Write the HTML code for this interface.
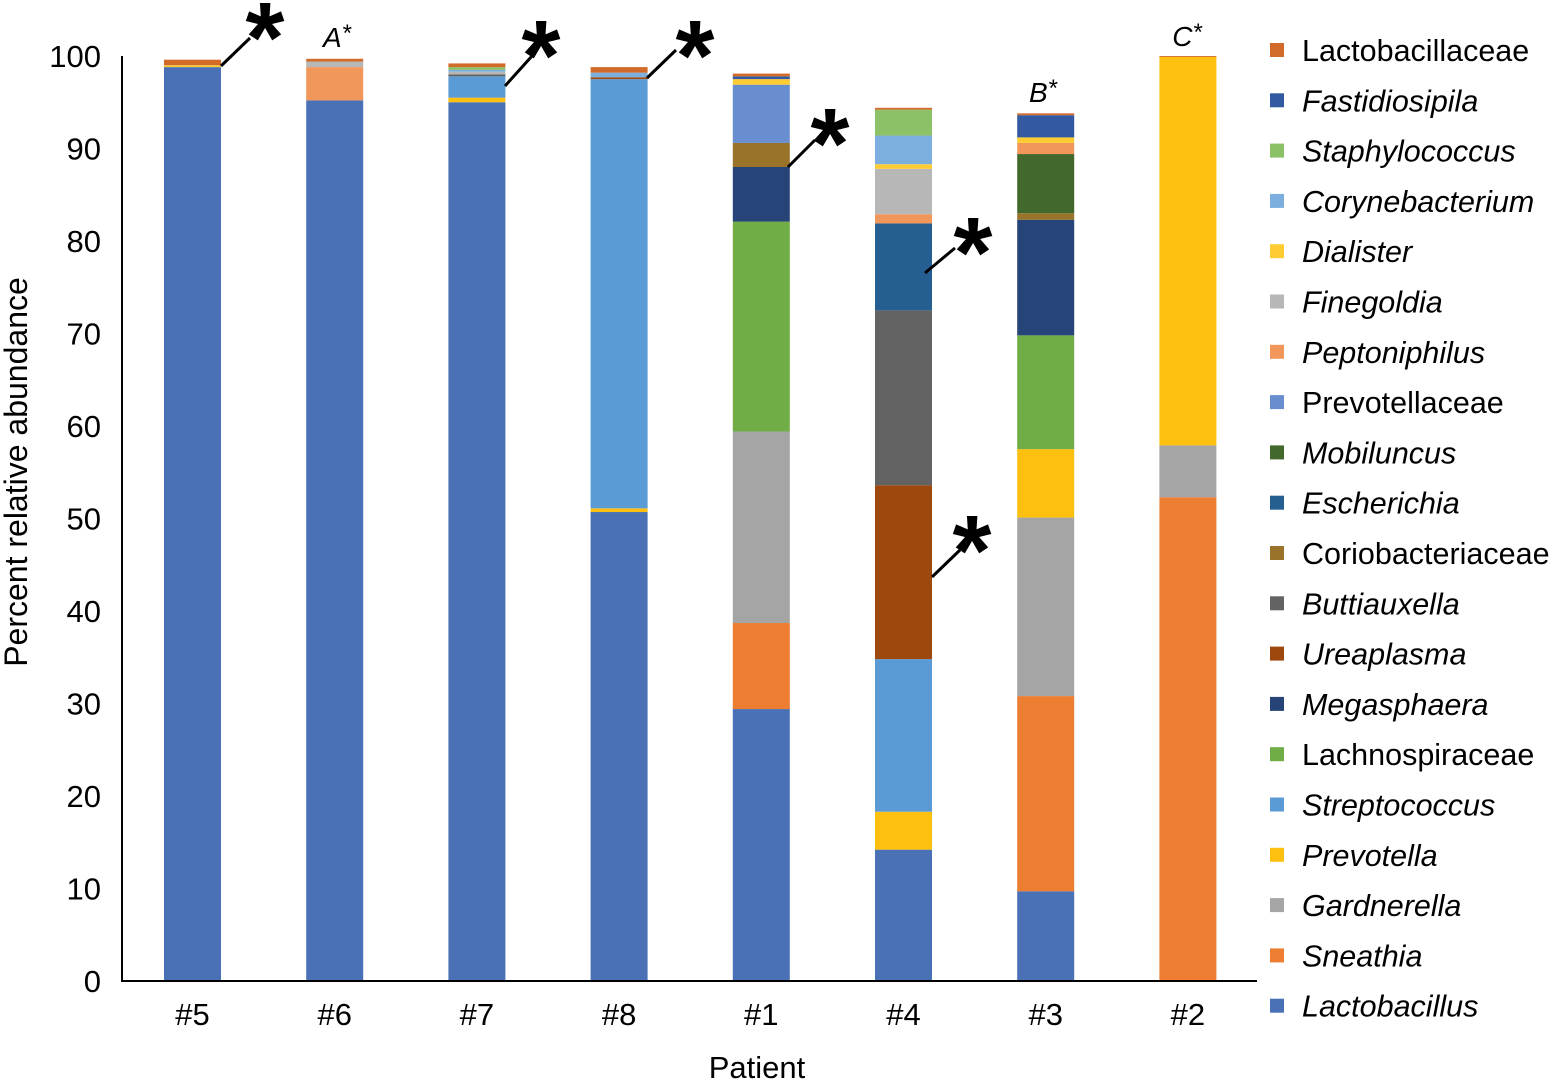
<!DOCTYPE html>
<html><head><meta charset="utf-8"><style>
html,body{margin:0;padding:0;background:#fff;}
svg{display:block;font-family:"Liberation Sans",Arial,sans-serif;}
</style></head><body>
<svg id="chart" width="1558" height="1081" viewBox="0 0 1558 1081"></svg>
<script>
const patients = ["#5","#6","#7","#8","#1","#4","#3","#2"];
const taxa = ["Lactobacillus","Sneathia","Gardnerella","Prevotella","Streptococcus","Lachnospiraceae","Megasphaera","Ureaplasma","Buttiauxella","Coriobacteriaceae","Escherichia","Mobiluncus","Prevotellaceae","Peptoniphilus","Finegoldia","Dialister","Corynebacterium","Staphylococcus","Fastidiosipila","Lactobacillaceae"];
const italicTaxa = [true,true,true,true,true,false,true,true,true,false,true,true,false,true,true,true,true,true,true,false];
const colors = ["#4a71b6","#ed7d31","#a5a5a5","#fdc010","#5b9bd5","#70ad47","#264478","#9e480e","#636363","#997329","#255e91","#43682b","#698ed0","#f1975a","#b7b7b7","#ffcd33","#7cafdd","#8cc168","#335aa1","#d26b2a"];
// values per patient, order matches taxa
const v5 = [98.8,0,0,0,0,0,0,0,0,0,0,0,0,0,0,0.2,0,0,0,0.6];
const v6 = [95.2,0,0,0,0,0,0,0,0,0,0,0,0,3.6,0.6,0,0,0,0,0.3];
const v7 = [95.0,0,0,0.5,2.3,0,0,0,0.2,0,0,0,0,0,0.3,0,0.2,0.3,0,0.4];
const v8 = [50.7,0,0,0.4,46.4,0,0,0.2,0,0,0,0,0,0,0,0,0.5,0,0,0.6];
const v1 = [29.4,9.3,20.7,0,0,22.7,5.9,0,0,2.6,0,0,6.3,0,0,0.6,0,0,0.3,0.3];
const v4 = [14.2,0,0,4.1,16.5,0,0,18.8,18.9,0,9.4,0,0,1.0,4.9,0.5,3.1,2.8,0,0.2];
const v3 = [9.7,21.1,19.3,7.4,0,12.3,12.5,0,0,0.7,0,6.4,0,1.2,0,0.6,0,0,2.4,0.2];
const v2 = [0,52.3,5.6,42.0,0,0,0,0,0,0,0,0,0,0,0,0,0,0,0,0.1];
const seriesByPatient = [v5,v6,v7,v8,v1,v4,v3,v2];
const yTicks = [0,10,20,30,40,50,60,70,80,90,100];

const NS="http://www.w3.org/2000/svg";
const svg=document.getElementById('chart');
function mk(tag,attrs,parent){const e=document.createElementNS(NS,tag);for(const k in attrs)e.setAttribute(k,attrs[k]);(parent||svg).appendChild(e);return e;}
const x0=122,y0=981,yTop=56,step=142.2,firstC=192.5,bw=57;
const yS=v=>y0-(v/100)*(y0-yTop);
const xC=i=>firstC+i*step;

yTicks.forEach(t=>{
  const e=mk('text',{x:101,y:yS(t)+11,'text-anchor':'end','font-size':31,fill:'#000'});
  
  
  e.textContent=t;
});
patients.forEach((p,i)=>{
  const g=mk('g',{});
  
  
  let cum=0;
  seriesByPatient[i].forEach((v,j)=>{
    if(v<=0)return;
    const r=mk('rect',{x:xC(i)-bw/2,y:yS(cum+v),width:bw,height:yS(cum)-yS(cum+v),fill:colors[j]},g);
    
    
    cum+=v;
  });
  const t=mk('text',{x:xC(i),y:1025,'text-anchor':'middle','font-size':31,fill:'#000'});
  
  
  t.textContent=p;
});
const ax=mk('path',{d:`M${x0} ${yTop}V${y0}H1257`,stroke:'#000','stroke-width':2,fill:'none'});


const xt=mk('text',{x:757,y:1078,'text-anchor':'middle','font-size':31,fill:'#000'});


xt.textContent='Patient';
const yt=mk('text',{x:0,y:0,transform:'translate(27,472) rotate(-90)','text-anchor':'middle','font-size':32,fill:'#000'});


yt.textContent='Percent relative abundance';
const stars=[[221,66,250,38,265,40],[505,86,532,56,541,58],[647,78,676,50,695,58],[788,167,815,140,830,146],[925,273,955,248,973,255],[932,577,960,550,972,553]];
stars.forEach(s=>{
  const l=mk('line',{x1:s[0],y1:s[1],x2:s[2],y2:s[3],stroke:'#000','stroke-width':3});
  
  
  const t=mk('text',{x:s[4],y:s[5]+32,'text-anchor':'middle','font-size':100,'font-weight':'bold',fill:'#000'});
  
  
  t.textContent='*';
});
[["A",337,47],["B",1043,102],["C",1187,46]].forEach(a=>{
  const t=mk('text',{x:a[1],y:a[2],'text-anchor':'middle','font-size':28,'font-style':'italic',fill:'#000'});
  
  
  t.textContent=a[0];
  const s=mk('tspan',{'font-size':24,dy:-6},t);s.textContent='*';
});
for(let k=0;k<taxa.length;k++){
  const j=taxa.length-1-k;
  const y=50+k*50.3;
  const g=mk('g',{});
  
  
  mk('rect',{x:1270,y:y-7,width:14,height:14,fill:colors[j]},g);
  const t=mk('text',{x:1302,y:y+11,'font-size':30.5,fill:'#000','font-style':italicTaxa[j]?'italic':'normal'},g);
  t.textContent=taxa[j];
}
</script>
</body></html>
